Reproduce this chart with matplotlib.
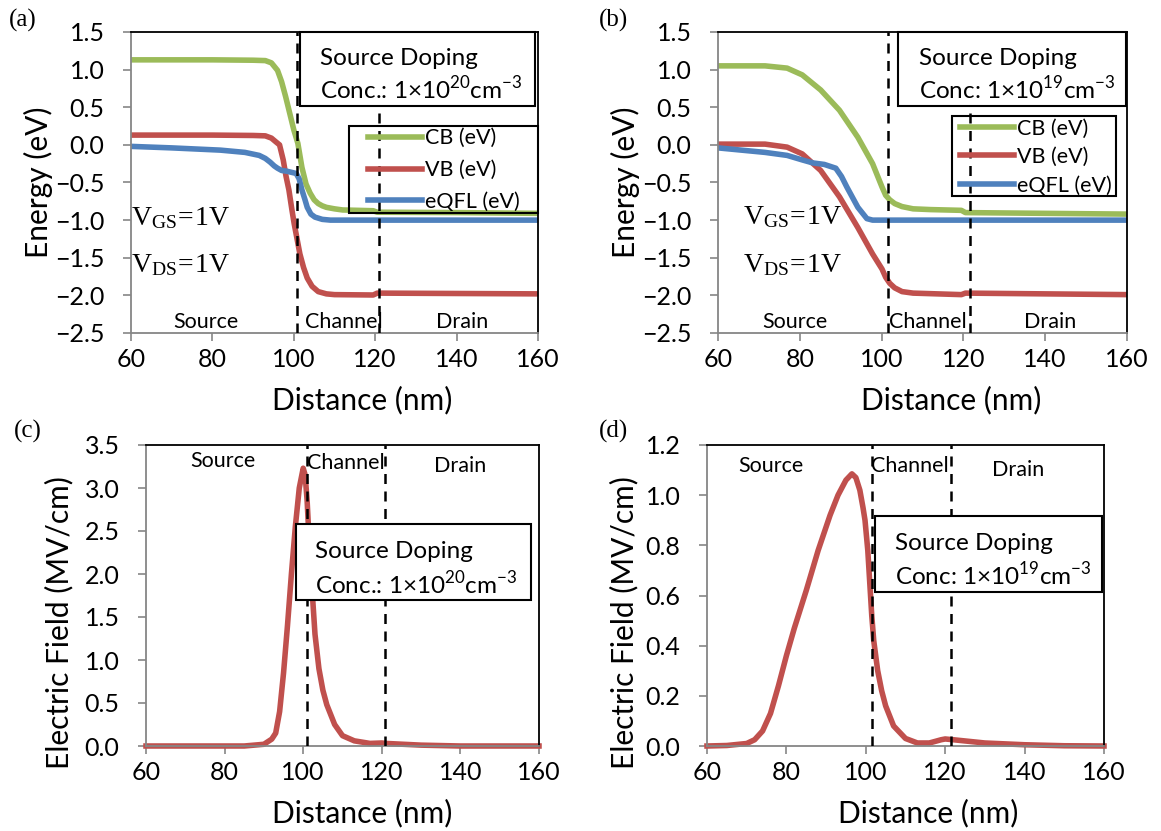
import matplotlib
matplotlib.use("Agg")
import matplotlib.pyplot as plt
from matplotlib.patches import Rectangle

plt.rcParams['font.family'] = ['Lato', 'DejaVu Sans']
plt.rcParams['mathtext.fontset'] = 'custom'
plt.rcParams['mathtext.rm'] = 'Lato'
plt.rcParams['mathtext.sf'] = 'Liberation Serif'

GREEN, RED, BLUE = '#9BBB59', '#C0504D', '#4F81BD'
GRAY = '#868686'

# (a) bandas, dopado de fuente 1e20
a_cb_x = [60, 80, 90, 93, 94.5, 96, 97, 98, 99, 100, 101, 102, 103, 104, 105, 106, 107, 108,
          110, 112, 119.5, 120.5, 140, 160]
a_cb_y = [1.13, 1.13, 1.125, 1.12, 1.09, 0.99, 0.84, 0.64, 0.42, 0.2, 0.02, -0.3, -0.52,
          -0.64, -0.73, -0.78, -0.81, -0.83, -0.85, -0.865, -0.875, -0.895, -0.9, -0.91]
a_vb_x = [60, 80, 90, 93, 94.5, 95.6, 96.5, 97.4, 98.1, 98.8, 99.5, 100.1, 100.8, 101.5,
          102.4, 103.3, 104.5, 106, 108, 110, 119.5, 120.5, 140, 160]
a_vb_y = [0.13, 0.13, 0.125, 0.12, 0.09, 0.04, 0.0, -0.2, -0.42, -0.6, -0.85, -1.05, -1.25,
          -1.45, -1.63, -1.77, -1.88, -1.95, -1.98, -1.99, -1.995, -1.97, -1.975, -1.98]
a_qf_x = [60, 70, 82, 88, 91.5, 93, 94.2, 95.2, 96, 97, 98.3, 100.6, 101.3, 102, 102.7, 103.3,
          104.2, 105.2, 107, 109, 160]
a_qf_y = [-0.02, -0.04, -0.07, -0.1, -0.14, -0.18, -0.23, -0.28, -0.31, -0.34, -0.35, -0.38,
          -0.45, -0.6, -0.72, -0.83, -0.92, -0.96, -0.99, -1.0, -1.0]

# (b) bandas, dopado de fuente 1e19
b_cb_x = [60, 71.5, 76.9, 80.6, 85.1, 89.7, 94.2, 97.8, 100.1, 101, 102, 103.2, 105, 107.7,
          112, 119.5, 120.5, 140, 160]
b_cb_y = [1.05, 1.05, 1.02, 0.93, 0.73, 0.46, 0.1, -0.25, -0.56, -0.67, -0.73, -0.78, -0.82,
          -0.85, -0.86, -0.87, -0.9, -0.91, -0.92]
b_vb_x = [60, 71.5, 76.9, 80.6, 85.1, 89.7, 94.2, 97.8, 100.1, 101, 102, 103.2, 105, 107.7,
          119.5, 120.5, 140, 160]
b_vb_y = [0.01, 0.01, -0.03, -0.12, -0.34, -0.69, -1.1, -1.45, -1.65, -1.76, -1.84, -1.9,
          -1.95, -1.97, -1.99, -1.97, -1.98, -1.99]
b_qf_x = [60, 71.5, 76.9, 80.6, 83.2, 86, 88.8, 90.2, 91.5, 94.2, 96.4, 97.8, 160]
b_qf_y = [-0.04, -0.1, -0.14, -0.2, -0.24, -0.26, -0.31, -0.42, -0.56, -0.83, -0.98, -1.0,
          -1.0]

# (c) campo electrico, 1e20
c_x = [60, 85, 90, 92, 93, 94, 95, 96, 97, 98, 99, 100, 100.5, 101, 101.5, 102, 103, 104,
       105, 106, 108, 110, 113, 117, 120, 121, 130, 140, 160]
c_y = [0, 0, 0.02, 0.08, 0.15, 0.4, 0.85, 1.4, 2.0, 2.55, 3.0, 3.23, 3.15, 2.85, 2.4, 2.0,
       1.3, 0.9, 0.65, 0.48, 0.25, 0.12, 0.06, 0.03, 0.035, 0.03, 0.01, 0.0, 0]

# (d) campo electrico, 1e19
d_x = [60, 65, 70, 72, 74, 76, 78, 80, 82, 85, 88, 91, 93, 95, 96.5, 97.5, 98.5, 99.3, 99.8,
       100.5, 101, 101.5, 102, 103, 104, 105, 107, 110, 113, 116, 119, 120, 122, 130, 140,
       150, 160]
d_y = [0, 0.002, 0.01, 0.025, 0.06, 0.13, 0.24, 0.36, 0.47, 0.62, 0.78, 0.92, 1.0, 1.06,
       1.085, 1.07, 1.02, 0.95, 0.9, 0.78, 0.65, 0.52, 0.42, 0.3, 0.22, 0.16, 0.08, 0.03,
       0.012, 0.012, 0.025, 0.028, 0.025, 0.012, 0.005, 0.001, 0]

band_labels = ['CB (eV)', 'VB (eV)', 'eQFL (eV)']
region_names = ['Source', 'Channel', 'Drain']
bounds = {'a': [100.9, 120.9], 'b': [101.6, 121.5], 'c': [100.9, 120.9], 'd': [101.6, 121.4]}

W, H = 1161, 831
fig = plt.figure(figsize=(W / 100, H / 100), dpi=100)
LAB = 21.5


def make_ax(l, t, r, b):
    ax = fig.add_axes([l / W, 1 - b / H, (r - l) / W, (b - t) / H])
    for s in ('left', 'bottom'):
        ax.spines[s].set_color(GRAY)
        ax.spines[s].set_linewidth(1.3)
    for s in ('top', 'right'):
        ax.spines[s].set_color('black')
        ax.spines[s].set_linewidth(1.3)
    ax.tick_params(direction='out', length=6, width=1.2, color=GRAY, labelsize=18)
    ax.tick_params(axis='y', pad=13)
    ax.tick_params(axis='x', pad=5)
    ax.set_xlim(60, 160)
    ax.set_xticks(range(60, 161, 20))
    return ax


def labels(ax, yl, ylx, yly, xlx):
    ax.set_ylabel(yl, fontsize=LAB, va='center')
    ax.yaxis.set_label_coords(ylx, yly)
    ax.set_xlabel('Distance (nm)', fontsize=LAB, va='center')
    ax.xaxis.set_label_coords(xlx, -0.223)


def frame_box(ax, x0, y0, x1, y1, fill):
    ax.add_patch(Rectangle((x0, y0), x1 - x0, y1 - y0, transform=ax.transAxes,
                           facecolor='white' if fill else 'none', edgecolor='black',
                           lw=1.5, zorder=6 if fill else 5, clip_on=False))


def doping_box(ax, x0, y0, x1, y1, tx, ty1, ty2, conc):
    frame_box(ax, x0, y0, x1, y1, True)
    ax.text(tx, ty1, 'Source Doping', transform=ax.transAxes, fontsize=17.5,
            va='center', zorder=7)
    ax.text(tx, ty2, conc, transform=ax.transAxes, fontsize=17.5, va='center', zorder=7)


def regions(ax, xs, ys):
    tr = ax.get_xaxis_transform()
    for name, x, y in zip(region_names, xs, ys):
        ax.text(x, y, name, transform=tr, ha='center', va='center', fontsize=15.5, zorder=4)


def dashed(ax, key):
    for xb in bounds[key]:
        ax.axvline(xb, color='black', lw=1.8, ls=(0, (4, 3)), zorder=3)


def bands(ax, cb, vb, qf, anchor, spacing, box):
    for (xs, ys), c, lab in zip([cb, vb, qf], [GREEN, RED, BLUE], band_labels):
        ax.plot(xs, ys, color=c, lw=4, label=lab, zorder=2, solid_joinstyle='round')
    ax.legend(loc='upper left', bbox_to_anchor=anchor, fontsize=15.5, frameon=False,
              handlelength=2.5, borderpad=0, labelspacing=spacing, handletextpad=0.15,
              borderaxespad=0)
    frame_box(ax, *box, False)


conc20 = 'Conc.: 1×10$^{20}$cm$^{-3}$'
conc19 = 'Conc: 1×10$^{19}$cm$^{-3}$'
ETICKS = [1.5, 1.0, 0.5, 0.0, -0.5, -1.0, -1.5, -2.0, -2.5]

# ---- (a)
ax = make_ax(131, 32, 538, 333)
ax.set_ylim(-2.5, 1.5)
ax.set_yticks(ETICKS)
ax.yaxis.set_major_formatter('{x:.1f}')
bands(ax, (a_cb_x, a_cb_y), (a_vb_x, a_vb_y), (a_qf_x, a_qf_y), (0.582, 0.68), 0.55,
      (0.536, 0.399, 1.0, 0.688))
dashed(ax, 'a')
doping_box(ax, 0.415, 0.754, 0.993, 1.0, 0.465, 0.912, 0.81, conc20)
regions(ax, [78.4, 112.3, 141.3], [0.037, 0.037, 0.037])
ax.text(60, -0.97, r'$\mathsf{V_{GS}\!=\!1V}$', fontsize=20, va='center')
ax.text(60, -1.6, r'$\mathsf{V_{DS}\!=\!1V}$', fontsize=20, va='center')
labels(ax, 'Energy (eV)', -0.227, 0.5, 0.568)

# ---- (b)
ax = make_ax(718, 32, 1127, 333)
ax.set_ylim(-2.5, 1.5)
ax.set_yticks(ETICKS)
ax.yaxis.set_major_formatter('{x:.1f}')
bands(ax, (b_cb_x, b_cb_y), (b_vb_x, b_vb_y), (b_qf_x, b_qf_y), (0.592, 0.713), 0.4,
      (0.572, 0.455, 0.973, 0.721))
dashed(ax, 'b')
doping_box(ax, 0.44, 0.754, 0.998, 1.0, 0.491, 0.912, 0.81, conc19)
regions(ax, [78.8, 111.3, 141.2], [0.037, 0.037, 0.037])
ax.text(66, -0.96, r'$\mathsf{V_{GS}\!=\!1V}$', fontsize=20, va='center')
ax.text(66, -1.6, r'$\mathsf{V_{DS}\!=\!1V}$', fontsize=20, va='center')
labels(ax, 'Energy (eV)', -0.227, 0.5, 0.57)

# ---- (c)
ax = make_ax(146, 445, 539, 746)
ax.set_ylim(0, 3.5)
ax.set_yticks([0, 0.5, 1.0, 1.5, 2.0, 2.5, 3.0, 3.5])
ax.yaxis.set_major_formatter('{x:.1f}')
ax.plot(c_x, c_y, color=RED, lw=4, zorder=2, clip_on=False, solid_joinstyle='round')
dashed(ax, 'c')
doping_box(ax, 0.382, 0.485, 0.98, 0.738, 0.43, 0.645, 0.54, conc20)
regions(ax, [79.6, 110.9, 140], [0.947, 0.94, 0.93])
labels(ax, 'Electric Field (MV/cm)', -0.221, 0.41, 0.55)

# ---- (d)
ax = make_ax(707, 445, 1104, 746)
ax.set_ylim(0, 1.2)
ax.set_yticks([0, 0.2, 0.4, 0.6, 0.8, 1.0, 1.2])
ax.yaxis.set_major_formatter('{x:.1f}')
ax.plot(d_x, d_y, color=RED, lw=4, zorder=2, clip_on=False, solid_joinstyle='round')
dashed(ax, 'd')
doping_box(ax, 0.423, 0.512, 0.995, 0.764, 0.474, 0.674, 0.568, conc19)
regions(ax, [76.1, 111.1, 138.3], [0.93, 0.93, 0.917])
labels(ax, 'Electric Field (MV/cm)', -0.209, 0.41, 0.557)

# etiquetas de panel
for lab, px, py in [('(a)', 23, 20), ('(b)', 614, 20), ('(c)', 28, 431), ('(d)', 614, 431)]:
    fig.text(px / W, 1 - py / H, lab, fontsize=18, family='Liberation Serif',
             ha='center', va='center')

fig.savefig('out.png', dpi=100)
